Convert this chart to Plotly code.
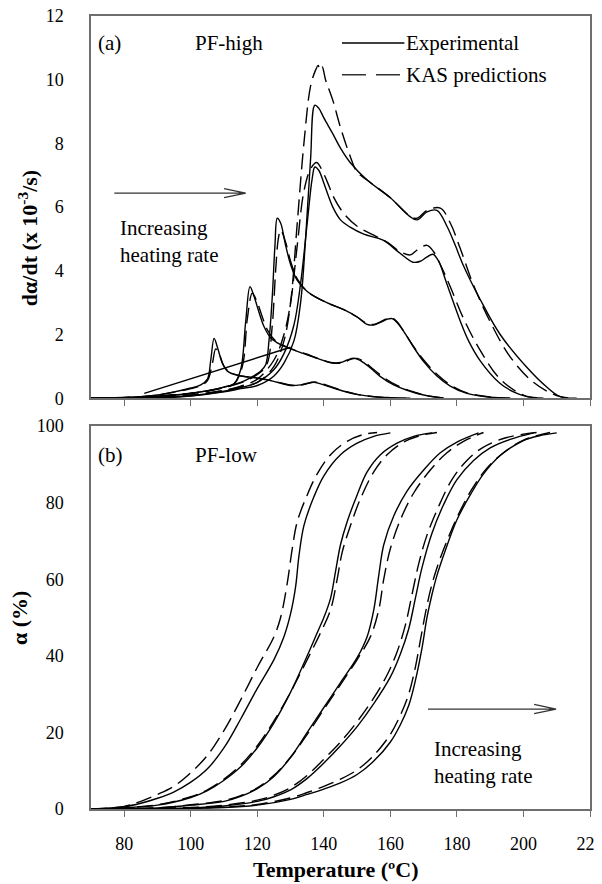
import plotly.graph_objects as go

# ---------------- Panel (a): PF-high, dα/dt (x 1e-3 /s) ----------------
r1_exp_T = [70, 80, 85, 90, 95, 100, 103, 105, 106, 107, 108, 109.5, 111, 114, 118, 122, 126, 130, 133, 135.5, 137, 139, 142, 146, 150, 155, 160, 166]
r1_exp_v = [0, 0.02, 0.05, 0.1, 0.2, 0.32, 0.42, 0.6, 1.2, 1.88, 1.6, 1.1, 0.85, 0.72, 0.66, 0.6, 0.5, 0.4, 0.42, 0.48, 0.5, 0.45, 0.35, 0.22, 0.12, 0.05, 0.02, 0]
r1_kas_T = [70, 80, 85, 90, 95, 100, 103, 105, 106.5, 107.5, 108.5, 110, 112, 115, 119, 123, 127, 131, 134, 136.5, 138, 140, 143, 147, 151, 156, 161, 166]
r1_kas_v = [0, 0.02, 0.05, 0.1, 0.19, 0.3, 0.4, 0.55, 1.1, 1.55, 1.4, 1.0, 0.8, 0.7, 0.64, 0.58, 0.48, 0.4, 0.43, 0.5, 0.5, 0.44, 0.33, 0.2, 0.1, 0.04, 0.01, 0]

r2_exp_T = [70, 85, 95, 100, 105, 110, 113, 115, 116.5, 117.8, 119, 120.5, 122, 124, 127, 130, 134, 138, 142, 145, 147, 149, 151, 154, 157, 161, 165, 170, 176, None, 86, 130]
r2_exp_v = [0, 0.04, 0.1, 0.16, 0.24, 0.35, 0.45, 0.9, 2.4, 3.5, 3.2, 2.7, 2.25, 1.9, 1.68, 1.55, 1.4, 1.25, 1.12, 1.12, 1.2, 1.26, 1.18, 0.95, 0.68, 0.42, 0.25, 0.1, 0, None, 0.15, 1.6]
r2_kas_T = [70, 85, 95, 100, 105, 110, 113, 115.5, 117, 118.5, 120, 121.5, 123, 125, 128, 131, 135, 139, 143, 146, 148, 150, 152, 155, 158, 162, 166, 171, 177]
r2_kas_v = [0, 0.04, 0.1, 0.15, 0.23, 0.34, 0.45, 1.0, 2.5, 3.3, 3.0, 2.55, 2.15, 1.85, 1.65, 1.52, 1.38, 1.22, 1.1, 1.12, 1.22, 1.25, 1.15, 0.9, 0.65, 0.4, 0.23, 0.08, 0]

r3_exp_T = [70, 85, 95, 100, 105, 110, 115, 118, 121, 122.5, 123.5, 124.5, 125.3, 126, 127, 128.5, 130, 132, 135, 138, 142, 146, 150, 153, 155, 157, 159, 160.5, 162, 164, 167, 170, 174, 178, 183, 190, 196]
r3_exp_v = [0, 0.03, 0.1, 0.15, 0.23, 0.35, 0.5, 0.65, 0.85, 1.05, 1.8, 3.2, 4.8, 5.65, 5.5, 4.8, 4.2, 3.7, 3.35, 3.15, 2.95, 2.78, 2.55, 2.32, 2.3, 2.38, 2.48, 2.5, 2.38, 2.1, 1.6, 1.15, 0.7, 0.38, 0.15, 0.03, 0]
r3_kas_T = [70, 85, 95, 100, 105, 110, 115, 118, 121, 123, 124.5, 125.5, 126.3, 127, 128.5, 130, 132, 135, 138, 142, 146, 150, 153, 155, 157, 159, 160.5, 162, 164, 167, 170, 174, 178, 183, 190, 196]
r3_kas_v = [0, 0.03, 0.1, 0.15, 0.22, 0.33, 0.48, 0.62, 0.82, 1.1, 2.3, 4.0, 5.0, 5.28, 4.9, 4.3, 3.75, 3.35, 3.15, 2.95, 2.78, 2.55, 2.34, 2.32, 2.4, 2.5, 2.52, 2.4, 2.1, 1.62, 1.2, 0.75, 0.42, 0.17, 0.04, 0]

r4_exp_T = [70, 90, 100, 110, 115, 120, 125, 128, 131, 133, 135, 136.5, 137.3, 138.5, 140, 142.7, 145, 147.9, 152, 157.8, 162.9, 166.8, 169, 170.9, 172.8, 174.5, 176.9, 180.9, 183.5, 186.9, 192.9, 197, 201, 206]
r4_exp_v = [0, 0.02, 0.08, 0.22, 0.33, 0.5, 0.9, 1.4, 2.3, 3.6, 5.5, 6.9, 7.26, 7.15, 6.75, 6.0, 5.6, 5.37, 5.15, 4.96, 4.55, 4.27, 4.3, 4.43, 4.52, 4.3, 3.61, 2.45, 1.8, 1.19, 0.47, 0.2, 0.05, 0]
r4_kas_T = [70, 90, 100, 110, 115, 120, 125, 128, 130, 132, 134, 136, 137.8, 139, 141, 143, 146, 150, 155, 159, 163, 166, 168, 171, 173, 175, 178, 182, 187, 193, 200, 206]
r4_kas_v = [0, 0.03, 0.1, 0.25, 0.38, 0.6, 1.2, 2.0, 3.0, 4.8, 6.5, 7.2, 7.4, 7.25, 6.8, 6.3, 5.8, 5.4, 5.12, 4.9, 4.6, 4.5, 4.65, 4.8, 4.6, 4.2, 3.5, 2.5, 1.5, 0.6, 0.1, 0]

r5_exp_T = [70, 90, 100, 110, 115, 120, 125, 128, 131, 133, 134.5, 136, 137.3, 138.5, 140, 142.7, 145, 147.9, 153, 159.9, 165.9, 168, 171, 174, 177, 179.5, 181.8, 187, 193, 201, 207, 211, 216]
r5_exp_v = [0, 0.02, 0.07, 0.2, 0.3, 0.4, 0.7, 1.1, 1.8, 3.0, 5.0, 7.5, 9.2, 9.1, 8.8, 8.3, 7.85, 7.4, 6.85, 6.3, 5.7, 5.6, 5.85, 5.9, 5.4, 4.8, 4.2, 3.1, 2.0, 0.97, 0.35, 0.05, 0]
r5_kas_T = [70, 90, 100, 110, 115, 120, 125, 128, 130, 132, 134, 136, 137.5, 138.3, 138.8, 139.5, 140.5, 142.7, 145, 147.9, 150, 153, 159.9, 165.9, 168, 171, 175, 178, 181, 184.8, 190, 196, 203, 210, 215]
r5_kas_v = [0, 0.03, 0.09, 0.24, 0.36, 0.5, 1.0, 1.8, 3.0, 5.5, 8.0, 9.8, 10.3, 10.45, 10.3, 10.4, 10.0, 9.35, 8.5, 7.6, 7.1, 6.85, 6.3, 5.72, 5.65, 5.9, 5.97, 5.5, 4.7, 3.6, 2.4, 1.3, 0.5, 0.08, 0]

# ---------------- Panel (b): PF-low, α (%) ----------------
s1_exp_T = [70, 80, 85, 90, 95, 100, 105, 110, 115, 120, 125, 128, 130, 131.5, 132.5, 134, 137, 140, 145, 150, 155, 160]
s1_exp_a = [0, 0.6, 1.5, 2.8, 4.5, 7, 10.5, 16, 23.5, 31.5, 39, 45, 51, 58, 66, 74, 81.5, 87, 92.5, 95.5, 97.3, 98.2]
s1_kas_T = [70, 80, 85, 90, 95, 100, 105, 110, 115, 120, 125, 127, 129, 130.5, 132, 135, 138, 142, 147, 152, 156]
s1_kas_a = [0, 0.7, 2, 3.8, 6, 9.5, 14, 20.5, 28.5, 37, 45, 50, 59, 68, 75, 82, 87.5, 92.5, 96, 97.8, 98.3]

s2_exp_T = [70, 80, 90, 100, 105, 110, 115, 120, 125, 130, 135, 138, 140, 142, 143.5, 145, 147, 150, 153, 157, 162, 167, 172.5]
s2_exp_a = [0, 0.3, 1, 3, 4.8, 7.5, 11, 16, 22.5, 30.5, 40, 46, 50, 55, 62, 69, 75, 82, 88, 92.5, 95.5, 97.3, 98.2]
s2_kas_T = [70, 80, 90, 100, 105, 110, 115, 120, 125, 130, 135, 139, 142, 144, 145.5, 148, 151, 155, 159, 164, 169, 174]
s2_kas_a = [0, 0.3, 1.1, 3.2, 5, 7.8, 11.5, 16.5, 23, 30.5, 39, 46, 52, 60, 67, 74, 81, 88, 92.5, 95.8, 97.5, 98.3]

s3_exp_T = [70, 90, 100, 110, 115, 120, 125, 130, 135, 140, 145, 150, 153, 155, 156.5, 158, 161, 165, 170, 175, 180, 186.5]
s3_exp_a = [0, 0.3, 1, 2, 3.3, 5.3, 8.5, 13.5, 20, 26.5, 33, 39.5, 45, 52, 61, 69, 76.5, 83, 88.5, 93, 95.8, 98.2]
s3_kas_T = [70, 90, 100, 110, 115, 120, 125, 130, 135, 140, 145, 150, 154, 156.5, 158, 160, 163, 167, 172, 177, 182, 188]
s3_kas_a = [0, 0.3, 1.1, 2.2, 3.5, 5.5, 8.8, 13.5, 19.5, 26, 32.5, 39, 45, 52, 60, 68, 75.5, 82.5, 88.5, 93, 96, 98.3]

s4_exp_T = [70, 100, 110, 120, 125, 130, 135, 140, 145, 150, 155, 160, 163, 165.5, 167.5, 169.5, 172.5, 176, 180, 185, 190, 196, 203]
s4_exp_a = [0, 0.3, 0.8, 2, 3.2, 5, 8, 12, 16.5, 21.5, 27.5, 34.5, 40.5, 47, 55, 63, 72, 79.5, 86, 91, 94.3, 96.5, 98.2]
s4_kas_T = [70, 100, 110, 120, 125, 130, 135, 140, 145, 150, 155, 159, 162, 164.5, 166.5, 168.5, 171, 174.5, 178.5, 183, 188, 195, 204]
s4_kas_a = [0, 0.4, 1, 2.3, 3.6, 5.6, 8.8, 13, 17.5, 22.8, 29, 35, 41, 48, 56, 64, 71.5, 79, 86, 91, 94.5, 97, 98.3]

s5_exp_T = [70, 110, 120, 130, 135, 140, 145, 150, 155, 160, 163, 165.5, 167.5, 169.5, 171, 172.5, 174, 176.5, 180, 184, 188, 193, 200, 205, 210]
s5_exp_a = [0, 0.4, 1, 2.5, 3.8, 5.2, 6.8, 9, 12.5, 17.5, 22, 27, 33.5, 42, 50, 56, 61, 67.5, 75.5, 82, 87.5, 92.3, 96.2, 97.5, 98.2]
s5_kas_T = [70, 110, 120, 130, 135, 140, 145, 150, 155, 160, 163, 165.5, 167.5, 169, 170.5, 172, 174, 177, 180.5, 184.5, 189, 194, 200, 208]
s5_kas_a = [0, 0.5, 1.2, 2.9, 4.3, 5.9, 7.8, 10.2, 14, 19.5, 24.5, 30, 37, 44, 51, 57, 63, 70, 77, 83.5, 89, 93, 96.3, 98.3]

x_range = [70, 220]
y1_range = [0, 12]
y2_range = [0, 100]

top_exp = [(r1_exp_T, r1_exp_v), (r2_exp_T, r2_exp_v), (r3_exp_T, r3_exp_v), (r4_exp_T, r4_exp_v), (r5_exp_T, r5_exp_v)]
top_kas = [(r1_kas_T, r1_kas_v), (r2_kas_T, r2_kas_v), (r3_kas_T, r3_kas_v), (r4_kas_T, r4_kas_v), (r5_kas_T, r5_kas_v)]
bot_exp = [(s1_exp_T, s1_exp_a), (s2_exp_T, s2_exp_a), (s3_exp_T, s3_exp_a), (s4_exp_T, s4_exp_a), (s5_exp_T, s5_exp_a)]
bot_kas = [(s1_kas_T, s1_kas_a), (s2_kas_T, s2_kas_a), (s3_kas_T, s3_kas_a), (s4_kas_T, s4_kas_a), (s5_kas_T, s5_kas_a)]

FONT = "Liberation Serif, Times New Roman, serif"
DASH = "16px,7px"
LW = 1.4

fig = go.Figure()
for (T, v) in top_kas:
    fig.add_trace(go.Scatter(x=T, y=v, mode="lines", line=dict(color="black", width=LW, dash=DASH),
                             xaxis="x", yaxis="y", showlegend=False, line_shape="spline", connectgaps=False))
for (T, v) in top_exp:
    fig.add_trace(go.Scatter(x=T, y=v, mode="lines", line=dict(color="black", width=LW),
                             xaxis="x", yaxis="y", showlegend=False, line_shape="spline", connectgaps=False))
for (T, a) in bot_kas:
    fig.add_trace(go.Scatter(x=T, y=a, mode="lines", line=dict(color="black", width=LW, dash=DASH),
                             xaxis="x2", yaxis="y2", showlegend=False, line_shape="spline"))
for (T, a) in bot_exp:
    fig.add_trace(go.Scatter(x=T, y=a, mode="lines", line=dict(color="black", width=LW),
                             xaxis="x2", yaxis="y2", showlegend=False, line_shape="spline"))

axis_common = dict(showline=True, linecolor="#6e6e6e", linewidth=1.5, mirror=True,
                   showgrid=False, zeroline=False, automargin=False, ticklabeloverflow="allow",
                   tickfont=dict(family=FONT, size=18, color="black"))

# the page body adds an 8px margin, so the figure is 8px smaller and margins shifted
fig.update_layout(
    width=594, height=876,
    margin=dict(l=83, r=12, t=8, b=75),
    plot_bgcolor="white", paper_bgcolor="white",
    font=dict(family=FONT, color="black"),
    xaxis=dict(domain=[0, 1], range=x_range, anchor="y", dtick=20, ticks="outside", ticklen=6,
               tickcolor="#6e6e6e", showticklabels=False, **axis_common),
    yaxis=dict(domain=[0.518, 1], range=y1_range, anchor="x", dtick=2, ticks="",
               ticklabelstandoff=22, **axis_common),
    xaxis2=dict(domain=[0, 1], range=x_range, anchor="y2", dtick=20, ticks="outside", ticklen=6,
                tickcolor="#6e6e6e", ticklabelstandoff=12, **axis_common),
    yaxis2=dict(domain=[0, 0.483], range=y2_range, anchor="x2", dtick=20, ticks="",
                ticklabelstandoff=22, **axis_common),
)

ann = []
txt = dict(family=FONT, size=21, color="black")
ttl = dict(family=FONT, size=22, color="black")
# panel labels
ann.append(dict(x=0.011, y=0.966, xref="paper", yref="paper", text="(a)", showarrow=False,
                xanchor="left", yanchor="middle", font=txt))
ann.append(dict(x=0.204, y=0.966, xref="paper", yref="paper", text="PF-high", showarrow=False,
                xanchor="left", yanchor="middle", font=txt))
ann.append(dict(x=0.011, y=0.446, xref="paper", yref="paper", text="(b)", showarrow=False,
                xanchor="left", yanchor="middle", font=txt))
ann.append(dict(x=0.204, y=0.446, xref="paper", yref="paper", text="PF-low", showarrow=False,
                xanchor="left", yanchor="middle", font=txt))
# legend text
ann.append(dict(x=0.627, y=0.966, xref="paper", yref="paper", text="Experimental", showarrow=False,
                xanchor="left", yanchor="middle", font=txt))
ann.append(dict(x=0.627, y=0.926, xref="paper", yref="paper", text="KAS predictions", showarrow=False,
                xanchor="left", yanchor="middle", font=txt))
# "Increasing heating rate"
ann.append(dict(x=0.054, y=0.716, xref="paper", yref="paper", text="Increasing<br>heating rate",
                showarrow=False, xanchor="left", yanchor="middle", align="left", font=txt))
ann.append(dict(x=0.683, y=0.059, xref="paper", yref="paper", text="Increasing<br>heating rate",
                showarrow=False, xanchor="left", yanchor="middle", align="left", font=txt))
# axis titles
ann.append(dict(x=-0.126, y=0.72, xref="paper", yref="paper",
                text="<b>dα/dt (x 10<sup>-3</sup>/s)</b>", textangle=-90, showarrow=False,
                xanchor="center", yanchor="middle", font=ttl))
ann.append(dict(x=-0.142, y=0.241, xref="paper", yref="paper",
                text="<b>α (%)</b>", textangle=-90, showarrow=False,
                xanchor="center", yanchor="middle", font=ttl))
ann.append(dict(x=0.491, y=-0.076, xref="paper", yref="paper",
                text="<b>Temperature (ºC)</b>", showarrow=False,
                xanchor="center", yanchor="middle", font=ttl))
fig.update_layout(annotations=ann)

shapes = []
# legend samples (paper coords)
shapes.append(dict(type="line", xref="paper", yref="paper", x0=0.503, x1=0.628, y0=0.966, y1=0.966,
                   line=dict(color="black", width=LW)))
shapes.append(dict(type="line", xref="paper", yref="paper", x0=0.503, x1=0.628, y0=0.926, y1=0.926,
                   line=dict(color="#333", width=LW, dash="24px,10px")))
# arrows (data coords of each panel)
shapes.append(dict(type="path", xref="x", yref="y",
                   path="M 77,6.44 L 116.5,6.44 M 110,6.58 L 116.5,6.44 L 110,6.30",
                   line=dict(color="#333", width=1.3)))
shapes.append(dict(type="path", xref="x2", yref="y2",
                   path="M 171.3,26.1 L 209.8,26.1 M 203.2,27.3 L 209.8,26.1 L 203.2,24.9",
                   line=dict(color="#333", width=1.3)))
fig.update_layout(shapes=shapes)

fig.write_html("out.html")
